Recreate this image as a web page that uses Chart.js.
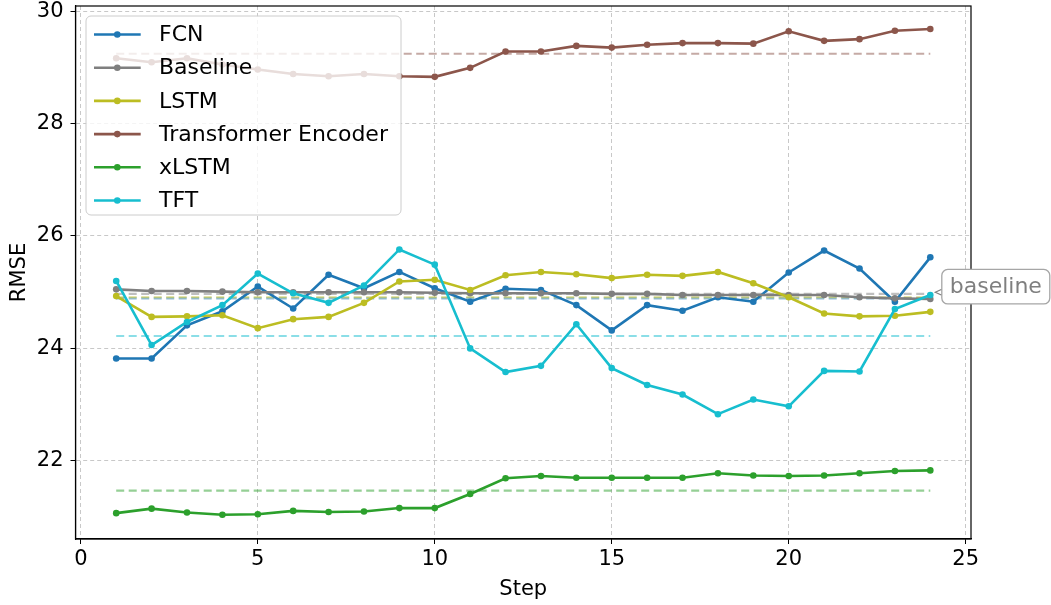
<!DOCTYPE html>
<html>
<head>
<meta charset="utf-8">
<script src="https://cdn.jsdelivr.net/npm/chart.js@4.4.1/dist/chart.umd.min.js"></script>
<style>
  html, body { margin: 0; padding: 0; background: #ffffff; }
  #wrap { width: 1051px; height: 605px; }
</style>
</head>
<body>
<div id="wrap"><canvas id="c" width="1051" height="605"></canvas></div>
<script>
// ---- data ----
const steps = [1, 2, 3, 4, 5, 6, 7, 8, 9, 10, 11, 12, 13, 14, 15, 16, 17, 18, 19, 20, 21, 22, 23, 24];
const fcn = [23.82, 23.82, 24.41, 24.66, 25.10, 24.71, 25.31, 25.07, 25.36, 25.07, 24.83, 25.06, 25.04, 24.77, 24.32, 24.77, 24.67, 24.91, 24.83, 25.35, 25.74, 25.42, 24.83, 25.62];
const baseline = [25.05, 25.02, 25.02, 25.01, 25.00, 25.00, 25.00, 25.00, 25.00, 24.99, 24.98, 24.98, 24.98, 24.98, 24.97, 24.97, 24.95, 24.95, 24.95, 24.95, 24.95, 24.91, 24.89, 24.88];
const lstm = [24.93, 24.56, 24.57, 24.59, 24.36, 24.52, 24.56, 24.81, 25.19, 25.22, 25.04, 25.30, 25.36, 25.32, 25.25, 25.31, 25.29, 25.36, 25.16, 24.91, 24.62, 24.57, 24.58, 24.65];
const transformer = [29.16, 29.09, 29.16, 29.05, 28.96, 28.88, 28.84, 28.88, 28.84, 28.83, 28.99, 29.28, 29.28, 29.38, 29.35, 29.40, 29.43, 29.43, 29.42, 29.64, 29.47, 29.50, 29.65, 29.68];
const xlstm = [21.07, 21.15, 21.08, 21.04, 21.05, 21.11, 21.09, 21.10, 21.16, 21.16, 21.41, 21.69, 21.73, 21.70, 21.70, 21.70, 21.70, 21.78, 21.74, 21.73, 21.74, 21.78, 21.82, 21.83];
const tft = [25.20, 24.06, 24.47, 24.77, 25.33, 24.98, 24.81, 25.12, 25.76, 25.49, 24.00, 23.58, 23.69, 24.43, 23.65, 23.35, 23.18, 22.83, 23.09, 22.97, 23.60, 23.59, 24.70, 24.95];
// dashed reference (mean) levels
const meanLevels = [24.89, 24.97, 24.91, 29.24, 21.47, 24.22];
const seriesNames = ['FCN', 'Baseline', 'LSTM', 'Transformer Encoder', 'xLSTM', 'TFT'];
const seriesColors = ['#1f77b4', '#7f7f7f', '#bcbd22', '#8c564b', '#2ca02c', '#17becf'];
const seriesValues = [fcn, baseline, lstm, transformer, xlstm, tft];
const xTicks = [0, 5, 10, 15, 20, 25];
const yTicks = [22, 24, 26, 28, 30];
const annotationText = 'baseline';

// ---- helpers ----
function hexA(hex, a) {
  const n = parseInt(hex.slice(1), 16);
  return `rgba(${(n >> 16) & 255},${(n >> 8) & 255},${n & 255},${a})`;
}
const FONT = 'DejaVu Sans';
const LW = 2.6, PR = 3.3;

const datasets = [];
seriesValues.forEach((vals, k) => {
  datasets.push({
    label: seriesNames[k],
    data: steps.map((s, i) => ({ x: s, y: vals[i] })),
    borderColor: seriesColors[k],
    backgroundColor: seriesColors[k],
    pointBackgroundColor: seriesColors[k],
    pointBorderColor: seriesColors[k],
    borderWidth: LW,
    pointRadius: PR,
    pointBorderWidth: 0,
    tension: 0,
    fill: false,
    order: 6 - k
  });
});
seriesValues.forEach((vals, k) => {
  datasets.push({
    label: seriesNames[k] + ' mean',
    data: [{ x: steps[0], y: meanLevels[k] }, { x: steps[steps.length - 1], y: meanLevels[k] }],
    borderColor: hexA(seriesColors[k], 0.5),
    borderWidth: 2.1,
    borderDash: [8, 4.5],
    pointRadius: 0,
    fill: false,
    order: 20 - k
  });
});

const overlay = {
  id: 'overlay',
  afterDatasetsDraw(chart) {
    const ctx = chart.ctx;
    const a = chart.chartArea;
    ctx.save();
    // frame
    ctx.strokeStyle = '#000';
    ctx.lineWidth = 1.2;
    ctx.setLineDash([]);
    ctx.strokeRect(a.left, a.top, a.right - a.left, a.bottom - a.top);

    // legend
    const lx = a.left + 10.5, ly = a.top + 10, lw = 315, lh = 199;
    ctx.beginPath();
    ctx.roundRect(lx, ly, lw, lh, 5);
    ctx.fillStyle = 'rgba(255,255,255,0.8)';
    ctx.fill();
    ctx.strokeStyle = '#cccccc';
    ctx.lineWidth = 1;
    ctx.stroke();
    ctx.font = `22px "${FONT}"`;
    ctx.textBaseline = 'middle';
    ctx.textAlign = 'left';
    seriesNames.forEach((name, i) => {
      const y = ly + 18.5 + i * 33.2;
      ctx.strokeStyle = seriesColors[i];
      ctx.lineWidth = LW;
      ctx.beginPath();
      ctx.moveTo(lx + 8, y);
      ctx.lineTo(lx + 54.7, y);
      ctx.stroke();
      ctx.fillStyle = seriesColors[i];
      ctx.beginPath();
      ctx.arc(lx + 31.3, y, PR, 0, Math.PI * 2);
      ctx.fill();
      ctx.fillStyle = '#000';
      ctx.fillText(name, lx + 73, y + 1);
    });

    // annotation pointing at the last baseline point
    const xs = chart.scales.x, ys = chart.scales.y;
    const px = xs.getPixelForValue(steps[steps.length - 1]);
    const py = ys.getPixelForValue(baseline[baseline.length - 1]);
    const bx = px + 11.5, by = py - 29.5, bw = 108, bh = 34.5;
    ctx.beginPath();
    ctx.roundRect(bx, by, bw, bh, 6);
    ctx.fillStyle = '#ffffff';
    ctx.fill();
    ctx.strokeStyle = '#a6a6a6';
    ctx.lineWidth = 1.3;
    ctx.stroke();
    ctx.fillStyle = '#7f7f7f';
    ctx.textAlign = 'center';
    ctx.font = `22px "${FONT}"`;
    ctx.fillText(annotationText, bx + bw / 2, by + bh / 2 + 1);
    // arrow head
    ctx.strokeStyle = '#7f7f7f';
    ctx.lineWidth = 1.2;
    ctx.beginPath();
    ctx.moveTo(bx - 0.5, py - 9.5);
    ctx.lineTo(px + 5, py - 6.7);
    ctx.lineTo(bx - 0.5, py - 4);
    ctx.stroke();
    ctx.restore();
  }
};

function noPad(s) {
  s.paddingTop = 0; s.paddingBottom = 0; s.paddingLeft = 0; s.paddingRight = 0;
}

new Chart(document.getElementById('c'), {
  type: 'line',
  data: { datasets },
  options: {
    responsive: false,
    animation: false,
    devicePixelRatio: 1,
    layout: { padding: { left: 0, right: 80, top: 6, bottom: 0 } },
    plugins: { legend: { display: false }, tooltip: { enabled: false } },
    scales: {
      x: {
        type: 'linear',
        min: -0.15,
        max: 25.15,
        afterBuildTicks: s => { s.ticks = xTicks.map(v => ({ value: v })); },
        afterFit: s => { s.height = 66; noPad(s); },
        grid: { color: '#c8c8c8', lineWidth: 1, tickColor: '#000', tickLength: 5, tickWidth: 1 },
        border: { display: true, color: '#000', width: 1.2, dash: [4, 3] },
        ticks: { color: '#000', font: { family: FONT, size: 21 }, padding: 3, maxRotation: 0 },
        title: { display: true, text: 'Step', color: '#000', font: { family: FONT, size: 21 }, padding: { top: 0, bottom: 3 } }
      },
      y: {
        type: 'linear',
        min: 20.61,
        max: 30.09,
        afterBuildTicks: s => { s.ticks = yTicks.map(v => ({ value: v })); },
        afterFit: s => { s.width = 75.5; noPad(s); },
        grid: { color: '#c8c8c8', lineWidth: 1, tickColor: '#000', tickLength: 5, tickWidth: 1 },
        border: { display: true, color: '#000', width: 1.2, dash: [4, 3] },
        ticks: { color: '#000', font: { family: FONT, size: 21 }, padding: 7 },
        title: { display: true, text: 'RMSE', color: '#000', font: { family: FONT, size: 21 }, padding: { top: 7, bottom: 0 } }
      }
    }
  },
  plugins: [overlay]
});
</script>
</body>
</html>
